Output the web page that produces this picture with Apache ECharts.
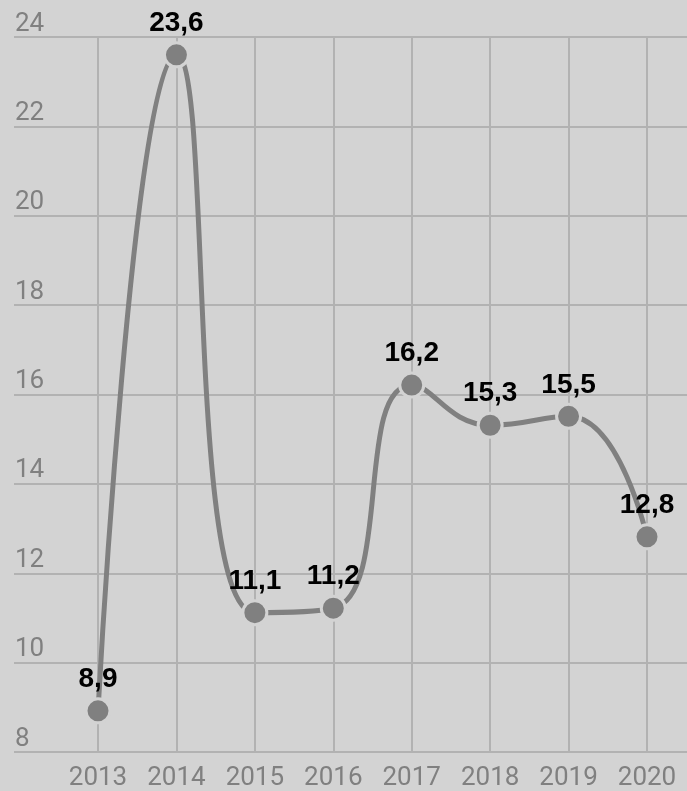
<!DOCTYPE html>
<html>
<head>
<meta charset="utf-8">
<script src="https://cdn.jsdelivr.net/npm/echarts@6/dist/echarts.min.js"></script>
<style>
  html, body { margin: 0; padding: 0; background: #d3d3d3; }
  #chart { width: 687px; height: 791px; }
</style>
</head>
<body>
<div id="chart"></div>
<script>
// data
var years = ['2013', '2014', '2015', '2016', '2017', '2018', '2019', '2020']
var values = [8.9, 23.6, 11.1, 11.2, 16.2, 15.3, 15.5, 12.8]
var yMin = 8
var yMax = 24
var yStep = 2

var gridColor = '#b2b2b2'
var textGray = '#808080'
var lineGray = '#808080'

var myChart = echarts.init(document.getElementById('chart'))
var option = {
  backgroundColor: '#d3d3d3',
  animation: false,
  grid: [
    // full width grid: only horizontal lines + y labels
    { left: 14, right: 0, top: 37, bottom: 39 },
    // plot grid for the line
    { left: 98, right: 40, top: 37, bottom: 39 }
  ],
  xAxis: [
    { type: 'category', gridIndex: 0, data: years, show: false },
    {
      type: 'category',
      gridIndex: 1,
      data: years,
      boundaryGap: false,
      axisLine: { show: false },
      axisTick: { show: false },
      axisLabel: {
        color: textGray,
        fontFamily: 'Roboto',
        fontSize: 26,
        margin: 14
      },
      splitLine: { show: true, lineStyle: { color: gridColor, width: 2 } }
    }
  ],
  yAxis: [
    {
      type: 'value',
      gridIndex: 0,
      min: yMin,
      max: yMax,
      interval: yStep,
      axisLine: { show: false },
      axisTick: { show: false },
      axisLabel: {
        inside: true,
        margin: 1,
        verticalAlign: 'bottom',
        padding: 0,
        color: textGray,
        fontFamily: 'Roboto',
        fontSize: 26
      },
      splitLine: { lineStyle: { color: gridColor, width: 2 } }
    },
    {
      type: 'value',
      gridIndex: 1,
      min: yMin,
      max: yMax,
      interval: yStep,
      show: false,
      splitLine: { show: false }
    }
  ],
  series: [
    {
      type: 'line',
      xAxisIndex: 1,
      yAxisIndex: 1,
      data: values,
      smooth: true,
      symbol: 'circle',
      symbolSize: 24,
      lineStyle: { color: lineGray, width: 5 },
      itemStyle: { color: lineGray, borderColor: '#d3d3d3', borderWidth: 3 },
      label: {
        show: true,
        position: 'top',
        distance: 4,
        color: '#000',
        fontWeight: 'bold',
        fontFamily: 'Liberation Sans',
        fontSize: 28,
        formatter: function (p) {
          return String(p.value).replace('.', ',')
        }
      }
    }
  ]
}
myChart.setOption(option)
</script>
</body>
</html>
